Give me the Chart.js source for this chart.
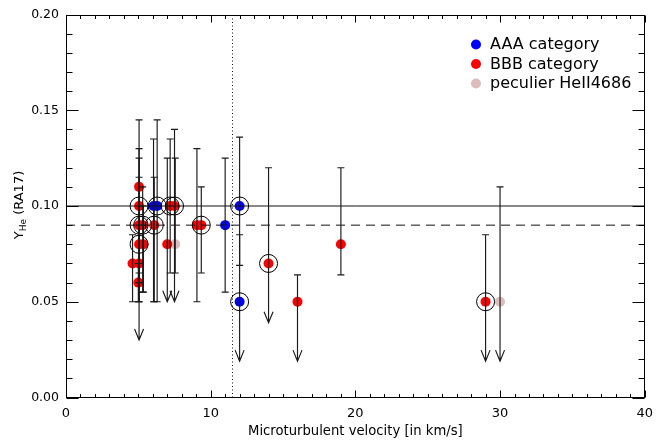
<!DOCTYPE html>
<html>
<head>
<meta charset="utf-8">
<script src="https://cdn.jsdelivr.net/npm/chart.js@4.4.1/dist/chart.umd.min.js"></script>
<style>
html,body{margin:0;padding:0;background:#fff;}
#wrap{width:661px;height:441px;position:relative;}
</style>
</head>
<body>
<div id="wrap"><canvas id="c"></canvas></div>
<script>
// ---- data ----
const seriesLabels = ['AAA category', 'BBB category', 'peculier HeII4686'];
const seriesColors = ['#0000ff', '#ff0000', '#dcbcbc'];

const aaaX     = [6.05, 6.3, 11.0, 12.0, 12.0];
const aaaY     = [0.10, 0.10, 0.09, 0.10, 0.05];
const aaaLow   = [0.05, 0.05, 0.055, 0.069, 0.019];
const aaaHigh  = [0.135, 0.145, 0.125, 0.136, 0.085];
const aaaLimit = [0, 0, 0, 0, 1];
const aaaRing  = [0, 1, 0, 1, 1];

const bbbX     = [5.05, 5.05, 7.2, 7.5, 5.05, 5.3, 6.1, 5.05, 5.35, 7.0, 4.6, 5.05, 5.0, 9.05, 9.35, 14, 16, 19, 29];
const bbbY     = [0.11, 0.10, 0.10, 0.10, 0.09, 0.09, 0.09, 0.08, 0.08, 0.08, 0.07, 0.07, 0.06, 0.09, 0.09, 0.07, 0.05, 0.08, 0.05];
const bbbLow   = [0.065, 0.03, 0.065, 0.05, 0.05, 0.055, 0.05, 0.06, 0.055, 0.05, 0.05, 0.05, 0.05, 0.05, 0.065, 0.039, 0.019, 0.064, 0.019];
const bbbHigh  = [0.13, 0.145, 0.135, 0.14, 0.125, 0.11, 0.115, 0.115, 0.10, 0.125, 0.085, 0.09, 0.07, 0.13, 0.11, 0.12, 0.064, 0.12, 0.085];
const bbbLimit = [0, 1, 0, 1, 0, 0, 0, 0, 0, 1, 0, 0, 0, 0, 0, 1, 1, 0, 1];
const bbbRing  = [0, 1, 1, 1, 1, 1, 1, 1, 0, 0, 0, 0, 0, 0, 1, 1, 0, 0, 1];

const pecX     = [7.55, 30];
const pecY     = [0.08, 0.05];
const pecLow   = [0.065, 0.019];
const pecHigh  = [0.125, 0.11];
const pecLimit = [0, 1];
const pecRing  = [0, 0];

const solidLineY  = 0.10;
const dashedLineY = 0.09;
const dottedLineX = 11.5;

const xTickValues = [0, 10, 20, 30, 40];
const yTickLabels = ['0.00', '0.05', '0.10', '0.15', '0.20'];

const xTitle = 'Microturbulent velocity [in km/s]';
const yTitleMain = 'Y', yTitleSub = 'He', yTitleRest = ' (RA17)';

// ---- build ----
const groups = [
  {x: aaaX, y: aaaY, lo: aaaLow, hi: aaaHigh, lim: aaaLimit, ring: aaaRing},
  {x: bbbX, y: bbbY, lo: bbbLow, hi: bbbHigh, lim: bbbLimit, ring: bbbRing},
  {x: pecX, y: pecY, lo: pecLow, hi: pecHigh, lim: pecLimit, ring: pecRing}
];
const FONT = "'DejaVu Sans', sans-serif";

const datasets = groups.map((g, k) => ({
  label: seriesLabels[k],
  data: g.x.map((v, i) => ({x: v, y: g.y[i]})),
  backgroundColor: seriesColors[k],
  borderWidth: 0,
  pointRadius: 5,
  pointHoverRadius: 5,
  order: k
}));

const overlay = {
  id: 'overlay',
  afterDatasetsDraw(chart) {
    const {ctx, chartArea: a, scales: {x, y}} = chart;
    ctx.save();
    ctx.strokeStyle = '#111';
    ctx.lineWidth = 1;
    // reference lines
    ctx.beginPath();
    ctx.moveTo(a.left, y.getPixelForValue(solidLineY));
    ctx.lineTo(a.right, y.getPixelForValue(solidLineY));
    ctx.stroke();
    ctx.setLineDash([9, 6]);
    ctx.beginPath();
    ctx.moveTo(a.left, y.getPixelForValue(dashedLineY));
    ctx.lineTo(a.right, y.getPixelForValue(dashedLineY));
    ctx.stroke();
    ctx.setLineDash([1, 2.5]);
    ctx.beginPath();
    const vx = Math.round(x.getPixelForValue(dottedLineX)) + 0.5;
    ctx.moveTo(vx, a.bottom);
    ctx.lineTo(vx, a.top);
    ctx.stroke();
    ctx.setLineDash([]);

    // error bars, limits, rings
    groups.forEach(g => {
      g.x.forEach((xv, i) => {
        const px = x.getPixelForValue(xv);
        const pyT = y.getPixelForValue(g.hi[i]);
        const pyB = y.getPixelForValue(g.lo[i]);
        ctx.lineWidth = 1.15;
        ctx.strokeStyle = '#1a1a1a';
        ctx.beginPath();
        ctx.moveTo(px, pyT); ctx.lineTo(px, pyB);
        ctx.moveTo(px - 3.5, pyT); ctx.lineTo(px + 3.5, pyT);
        if (g.lim[i]) {
          ctx.moveTo(px - 4.5, pyB - 11); ctx.lineTo(px, pyB); ctx.lineTo(px + 4.5, pyB - 11);
        } else {
          ctx.moveTo(px - 3.5, pyB); ctx.lineTo(px + 3.5, pyB);
        }
        ctx.stroke();
        if (g.ring[i]) {
          ctx.lineWidth = 1;
          ctx.strokeStyle = '#000';
          ctx.beginPath();
          ctx.arc(px, y.getPixelForValue(g.y[i]), 9, 0, Math.PI * 2);
          ctx.stroke();
        }
      });
    });

    // frame
    ctx.strokeStyle = '#000';
    ctx.lineWidth = 1;
    const L = Math.round(a.left) + 0.5, R = Math.round(a.right) - 0.5;
    const T = Math.round(a.top) + 0.5, B = Math.round(a.bottom) - 0.5;
    ctx.strokeRect(L, T, R - L, B - T);
    ctx.beginPath();
    // y ticks
    for (let k = 0; k <= 20; k++) {
      const v = k * 0.01;
      const py = Math.round(y.getPixelForValue(v)) + 0.5;
      const len = (k % 5 === 0) ? 12 : 6;
      ctx.moveTo(L, py); ctx.lineTo(L + len, py);
      ctx.moveTo(R, py); ctx.lineTo(R - len, py);
    }
    // x ticks
    for (let k = 0; k <= 40; k++) {
      const px = Math.round(x.getPixelForValue(k)) + 0.5;
      const len = (k % 10 === 0) ? 7 : 3.5;
      ctx.moveTo(px, B); ctx.lineTo(px, B - len);
      ctx.moveTo(px, T); ctx.lineTo(px, T + len);
    }
    ctx.stroke();

    // legend
    ctx.textBaseline = 'middle';
    ctx.textAlign = 'left';
    ctx.font = '16px ' + FONT;
    chart.data.datasets.forEach((ds, k) => {
      const ly = 44.5 + k * 19.5;
      ctx.fillStyle = ds.backgroundColor;
      ctx.beginPath();
      ctx.arc(476, ly, 5, 0, Math.PI * 2);
      ctx.fill();
      ctx.fillStyle = '#000';
      ctx.fillText(ds.label, 490, ly + 0.5);
    });

    // y title with subscript
    ctx.save();
    ctx.translate(23, 205);
    ctx.rotate(-Math.PI / 2);
    ctx.textBaseline = 'alphabetic';
    const mainF = '13px ' + FONT, subF = '9px ' + FONT;
    ctx.font = mainF; const w1 = ctx.measureText(yTitleMain).width;
    const w3 = ctx.measureText(yTitleRest).width;
    ctx.font = subF; const w2 = ctx.measureText(yTitleSub).width;
    let sx = -(w1 + w2 + w3) / 2;
    ctx.fillStyle = '#000';
    ctx.font = mainF; ctx.fillText(yTitleMain, sx, 0); sx += w1;
    ctx.font = subF; ctx.fillText(yTitleSub, sx, 3); sx += w2;
    ctx.font = mainF; ctx.fillText(yTitleRest, sx, 0);
    ctx.restore();

    ctx.restore();
  }
};

new Chart(document.getElementById('c'), {
  type: 'scatter',
  data: {datasets},
  options: {
    responsive: true,
    maintainAspectRatio: false,
    animation: false,
    events: [],
    layout: {padding: {top: 13, right: 11, left: 0, bottom: 0}},
    plugins: {legend: {display: false}, tooltip: {enabled: false}},
    scales: {
      x: {
        type: 'linear', min: 0, max: 40,
        afterBuildTicks: s => { s.ticks = xTickValues.map(v => ({value: v})); },
        ticks: {color: '#000', font: {family: FONT, size: 13}, padding: 8, maxRotation: 0,
                callback: v => String(v)},
        grid: {display: false, drawTicks: false},
        border: {display: false},
        title: {display: true, text: xTitle, color: '#000', font: {family: FONT, size: 13.2},
                padding: {top: 0, bottom: 2}},
        afterFit: s => { s.height = 43.5; }
      },
      y: {
        type: 'linear', min: 0, max: 0.2,
        afterBuildTicks: s => { s.ticks = yTickLabels.map(t => ({value: parseFloat(t)})); },
        ticks: {color: '#000', font: {family: FONT, size: 12.5}, padding: 7,
                callback: (v, i) => yTickLabels[i]},
        grid: {display: false, drawTicks: false},
        border: {display: false},
        afterFit: s => { s.width = 66; }
      }
    }
  },
  plugins: [overlay]
});
</script>
</body>
</html>
